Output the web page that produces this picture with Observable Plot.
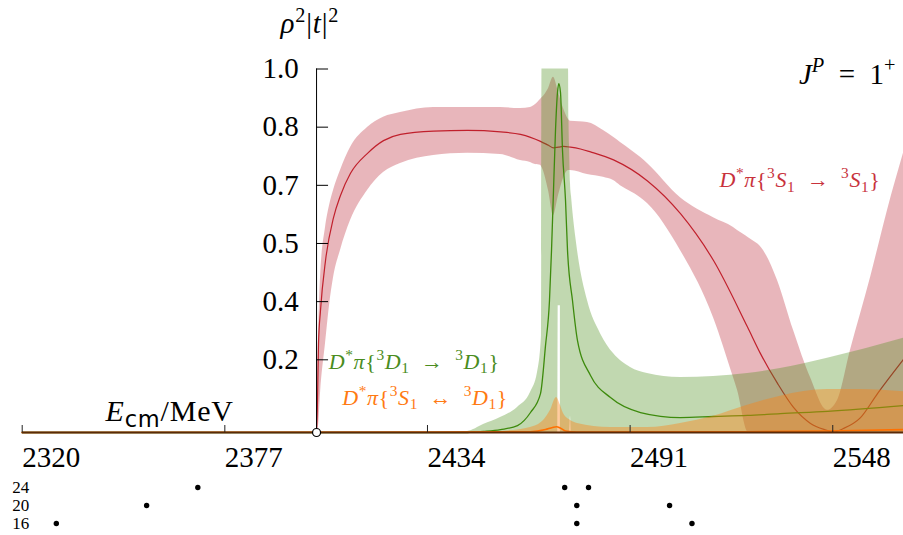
<!DOCTYPE html>
<html>
<head>
<meta charset="utf-8">
<script src="https://cdn.jsdelivr.net/npm/d3@7"></script>
<script src="https://cdn.jsdelivr.net/npm/@observablehq/plot@0.6"></script>
<style>
  html, body { margin: 0; padding: 0; background: white; }
  #chart svg { display: block; }
</style>
</head>
<body>
<div id="chart"></div>
<script>
// ---------- data ----------
const threshold = 2402.8;                 // D*π threshold, MeV
const xDomain = [2320, 2567.9];
const xTicks = [2320, 2377, 2434, 2491, 2548];
const yTicks = [0.2, 0.36, 0.52, 0.68, 0.84, 1.0];

// S-wave  D*π{3S1 -> 3S1}
const redLineE = [2320, 2402.78, 2403.07, 2403.35, 2403.91, 2405.32, 2407.57, 2409.53, 2412.35, 2417.13, 2421.63, 2426.41, 2435.70, 2445.26, 2454.54, 2460.17, 2462.98, 2465.79, 2468.04, 2469.45, 2470.86, 2472.26, 2474.23, 2477.04, 2479.86, 2486.33, 2495.89, 2505.17, 2514.46, 2524.02, 2527.67, 2532.46, 2536.96, 2541.74, 2546.52, 2547.93, 2551.03, 2555.81, 2560.59, 2567.90];
const redLineV = [0, 0, 0.088, 0.245, 0.336, 0.473, 0.591, 0.652, 0.713, 0.768, 0.803, 0.820, 0.829, 0.831, 0.827, 0.820, 0.812, 0.801, 0.790, 0.783, 0.785, 0.787, 0.785, 0.780, 0.772, 0.750, 0.692, 0.602, 0.473, 0.290, 0.217, 0.135, 0.069, 0.025, 0.0055, 0.001, 0.011, 0.041, 0.107, 0.201];
const redBandE = [2402.78, 2403.35, 2403.91, 2405.32, 2406.44, 2407.57, 2409.53, 2412.35, 2417.13, 2421.63, 2426.41, 2435.70, 2445.26, 2454.54, 2460.17, 2462.98, 2464.39, 2465.79, 2466.36, 2468.04, 2469.45, 2470.86, 2472.26, 2473.67, 2474.23, 2479.01, 2483.51, 2486.33, 2488.29, 2493.92, 2495.89, 2505.17, 2514.46, 2520.08, 2521.21, 2524.30, 2528.52, 2532.46, 2536.96, 2541.74, 2546.52, 2549.34, 2552.99, 2558.62, 2563.40, 2567.90];
const redBandLo = [0, 0.019, 0.107, 0.245, 0.349, 0.426, 0.501, 0.583, 0.666, 0.715, 0.740, 0.762, 0.768, 0.765, 0.748, 0.743, 0.737, 0.735, 0.726, 0.666, 0.597, 0.652, 0.699, 0.721, 0.721, 0.710, 0.702, 0.693, 0.679, 0.646, 0.630, 0.501, 0.316, 0.151, 0.116, 0, 0, 0, 0, 0, 0, 0, 0, 0, 0, 0];
const redBandHi = [0, 0.267, 0.426, 0.564, 0.624, 0.666, 0.721, 0.784, 0.839, 0.867, 0.880, 0.894, 0.894, 0.894, 0.891, 0.894, 0.902, 0.916, 0.922, 0.946, 0.977, 0.935, 0.891, 0.861, 0.856, 0.853, 0.831, 0.812, 0.798, 0.757, 0.740, 0.646, 0.591, 0.564, 0.556, 0.536, 0.501, 0.418, 0.281, 0.151, 0.061, 0.088, 0.226, 0.426, 0.611, 0.768];

// D-wave  D*π{3D1 -> 3D1}
const greenLineE = [2320, 2445.26, 2449.76, 2454.54, 2459.32, 2462.98, 2465.79, 2467.20, 2468.32, 2468.89, 2469.45, 2470.01, 2470.57, 2470.94, 2471.42, 2471.98, 2472.83, 2473.39, 2474.79, 2476.20, 2479.86, 2485.48, 2493.92, 2505.17, 2514.46, 2524.02, 2533.30, 2546.52, 2567.90];
const greenLineV = [0, 0, 0.003, 0.008, 0.019, 0.055, 0.107, 0.239, 0.363, 0.501, 0.666, 0.831, 0.935, 0.960, 0.935, 0.776, 0.638, 0.501, 0.363, 0.253, 0.157, 0.096, 0.055, 0.041, 0.044, 0.047, 0.052, 0.058, 0.074];
const greenBandE = [2437.66, 2445.26, 2449.76, 2454.54, 2459.32, 2462.98, 2464.95, 2466.07, 2466.21, 2470.69, 2470.77, 2471.39, 2471.47, 2473.67, 2473.81, 2473.95, 2474.23, 2474.51, 2476.20, 2479.01, 2482.67, 2486.33, 2491.11, 2495.89, 2505.17, 2514.46, 2524.02, 2533.30, 2546.52, 2567.90];
const greenBandLo = [0, 0, 0, 0, 0, 0, 0, 0, 0, 0, 0.349, 0.349, 0, 0, 0, 0, 0.044, 0, 0, 0, 0, 0, 0, 0, 0, 0, 0, 0, 0, 0];
const greenBandHi = [0, 0.003, 0.022, 0.041, 0.069, 0.110, 0.165, 0.267, 1.0, 1.0, 1.0, 1.0, 1.0, 1.0, 0.858, 0.790, 0.685, 0.650, 0.501, 0.363, 0.272, 0.217, 0.179, 0.162, 0.151, 0.154, 0.162, 0.176, 0.204, 0.259];

// S–D mixing  D*π{3S1 <-> 3D1}
const orangeLineE = [2320, 2462.98, 2467.20, 2469.17, 2470.29, 2471.42, 2472.83, 2476.20, 2524.02, 2546.52, 2567.90];
const orangeLineV = [0, 0.002, 0.008, 0.014, 0.016, 0.012, 0.004, 0.001, 0.002, 0.004, 0.008];
const orangeBandE = [2445.26, 2454.54, 2462.98, 2466.64, 2468.61, 2470.29, 2471.42, 2472.26, 2474.23, 2476.20, 2485.48, 2495.89, 2505.17, 2514.46, 2524.02, 2533.30, 2546.52, 2555.81, 2567.90];
const orangeBandHi = [0, 0.003, 0.014, 0.033, 0.061, 0.096, 0.074, 0.052, 0.033, 0.025, 0.014, 0.014, 0.025, 0.045, 0.075, 0.100, 0.118, 0.118, 0.112];

// finite-volume energy levels
const volumes = ["24", "20", "16"];
const levels24 = [2369.4, 2472.6, 2479.3];
const levels20 = [2355.0, 2476.0, 2502.1];
const levels16 = [2329.6, 2476.0, 2508.4];

// ---------- colours ----------
const C = {
  redBand: "#b91d2c", redLine: "#c0202c", redText: "#c8323c",
  greenBand: "#4e8f1e", greenLine: "#3d8a0c", greenText: "#4a8c20",
  orangeBand: "#ff7f0e", orangeLine: "#ff7000", orangeText: "#ff7a12",
  axis: "#5a2a08"
};

// ---------- rich-text labels ----------
const labelRed = [["D","i"],["*","sup"],["π","i"],["{","r"],["3","sup"],["S","i"],["1","sub"],["\u2002→\u2002","r"],["3","sup"],["S","i"],["1","sub"],["}","r"]];
const labelGreen = [["D","i"],["*","sup"],["π","i"],["{","r"],["3","sup"],["D","i"],["1","sub"],["\u2002→\u2002","r"],["3","sup"],["D","i"],["1","sub"],["}","r"]];
const labelOrange = [["D","i"],["*","sup"],["π","i"],["{","r"],["3","sup"],["S","i"],["1","sub"],["\u2002↔\u2002","r"],["3","sup"],["D","i"],["1","sub"],["}","r"]];
const labelY = [["ρ","i"],["2","sup"],["|","r"],["t","i"],["|","r"],["2","sup"]];
const labelJP = [["J","i"],["P","supi"],["\u2002=\u20021","r"],["+","sup"]];
const labelE = [["E","i"],["cm","subsans"],["/MeV","r"]];
const plain = segs => segs.map(s => s[0]).join("");

// ---------- build ----------
const redLine = redLineE.map((E, i) => ({E, v: redLineV[i]}));
const redBand = redBandE.map((E, i) => ({E, lo: redBandLo[i], hi: redBandHi[i]}));
const greenLine = greenLineE.map((E, i) => ({E, v: greenLineV[i]}));
const greenBand = greenBandE.map((E, i) => ({E, lo: greenBandLo[i], hi: greenBandHi[i]}));
const orangeLine = orangeLineE.map((E, i) => ({E, v: orangeLineV[i]}));
const orangeBand = orangeBandE.map((E, i) => ({E, lo: 0, hi: orangeBandHi[i]}));
const levels = [
  ...levels24.map(E => ({E, L: "24"})),
  ...levels20.map(E => ({E, L: "20"})),
  ...levels16.map(E => ({E, L: "16"}))
];

const W = 903, H = 470, mL = 21.7, mR = 0, mT = 68.5, mB = 38;
const pxPerMeV = (W - mL - mR) / (xDomain[1] - xDomain[0]);
const pxPerUnit = H - mT - mB;
const yTickLen = 12 / pxPerMeV;   // in MeV
const xTickLen = 7 / pxPerUnit;   // in y units

const serif = "'Liberation Serif', 'DejaVu Serif', serif";

const labels = [
  {segs: labelY, E: 2392.66, v: 1.098, anchor: "start", fs: 29, ls: 0.8, color: "black"},
  {segs: labelJP, E: 2565.65, v: 0.960, anchor: "end", fs: 29, ls: 0, color: "black"},
  {segs: labelE, E: 2343.43, v: 0.033, anchor: "start", fs: 30, ls: 0.8, color: "black"},
  {segs: labelRed, E: 2561.43, v: 0.675, anchor: "end", fs: 22, ls: 0.6, color: C.redText},
  {segs: labelGreen, E: 2406.24, v: 0.176, anchor: "start", fs: 22, ls: 0.6, color: C.greenText},
  {segs: labelOrange, E: 2410.0, v: 0.077, anchor: "start", fs: 22, ls: 0.6, color: C.orangeText}
];

const main = Plot.plot({
  width: W, height: H,
  marginLeft: mL, marginRight: mR, marginTop: mT, marginBottom: mB,
  x: {domain: xDomain, axis: null},
  y: {domain: [0, 1], axis: null},
  style: {fontFamily: serif, background: "white", overflow: "visible"},
  marks: [
    Plot.areaY(redBand, {x: "E", y1: "lo", y2: "hi", fill: C.redBand, fillOpacity: 0.32, curve: "monotone-x"}),
    Plot.line(redLine, {x: "E", y: "v", stroke: C.redLine, strokeWidth: 1.2, curve: "monotone-x"}),
    Plot.areaY(greenBand, {x: "E", y1: "lo", y2: "hi", fill: C.greenBand, fillOpacity: 0.35, curve: "monotone-x"}),
    Plot.line(greenLine, {x: "E", y: "v", stroke: C.greenLine, strokeWidth: 1.3, curve: "monotone-x"}),
    Plot.areaY(orangeBand, {x: "E", y1: "lo", y2: "hi", fill: C.orangeBand, fillOpacity: 0.4, curve: "monotone-x"}),
    Plot.line(orangeLine, {x: "E", y: "v", stroke: C.orangeLine, strokeWidth: 1.6, curve: "monotone-x"}),
    Plot.ruleY([0], {stroke: C.axis, strokeWidth: 2}),
    Plot.ruleX(xTicks, {y1: 0, y2: xTickLen, stroke: "#222", strokeWidth: 1}),
    Plot.text(xTicks, {x: d => d, y: 0, text: d => String(d), textAnchor: "start", lineAnchor: "bottom", dy: 34.7, fontSize: 29, fill: "black"}),
    Plot.ruleX([threshold], {y1: 0, y2: 1, stroke: "black", strokeWidth: 1}),
    Plot.ruleY(yTicks, {x1: threshold, x2: threshold + yTickLen, stroke: "black", strokeWidth: 1}),
    Plot.text(yTicks, {x: threshold, y: d => d, text: d => d.toFixed(1), textAnchor: "end", dx: -17.7, fontSize: 29, fill: "black"}),
    Plot.dot([threshold], {x: d => d, y: 0, r: 4, fill: "white", stroke: "black", strokeWidth: 1.2}),
    ...labels.map(l => Plot.text([l], {x: "E", y: "v", text: d => plain(d.segs), textAnchor: l.anchor, lineAnchor: "bottom", fontSize: l.fs, fill: l.color}))
  ]
});

const strip = Plot.plot({
  width: W, height: 65,
  marginLeft: mL, marginRight: mR, marginTop: 16, marginBottom: 12,
  x: {domain: xDomain, axis: null},
  y: {domain: volumes, type: "point", padding: 0, axis: null},
  style: {fontFamily: serif, background: "white", overflow: "visible"},
  marks: [
    Plot.dot(levels, {x: "E", y: "L", r: 2.7, fill: "black", stroke: "none"}),
    Plot.text(volumes, {y: d => d, frameAnchor: "left", text: d => d, textAnchor: "start", dx: -10, fontSize: 17, fill: "black"})
  ]
});

const root = document.getElementById("chart");
root.appendChild(main);
root.appendChild(strip);

// convert plain label strings into super/subscript tspans
const specs = new Map(labels.map(l => [plain(l.segs), l]));
main.querySelectorAll("text").forEach(t => {
  const l = specs.get(t.textContent);
  if (!l) return;
  const fs = l.fs;
  if (l.ls) t.setAttribute("letter-spacing", l.ls);
  while (t.firstChild) t.removeChild(t.firstChild);
  let cur = 0;
  for (const [s, kind] of l.segs) {
    const ts = document.createElementNS("http://www.w3.org/2000/svg", "tspan");
    ts.textContent = s;
    let shift = 0;
    if (kind === "i") ts.setAttribute("font-style", "italic");
    if (kind === "sup" || kind === "supi") {
      ts.setAttribute("font-size", fs * 0.7);
      shift = -0.4 * fs;
      if (kind === "supi") ts.setAttribute("font-style", "italic");
    }
    if (kind === "sub" || kind === "subsans") {
      ts.setAttribute("font-size", fs * (kind === "subsans" ? 0.75 : 0.7));
      shift = 0.22 * fs;
      if (kind === "subsans") ts.setAttribute("font-family", "'DejaVu Sans', sans-serif");
    }
    ts.setAttribute("dy", shift - cur);
    cur = shift;
    t.appendChild(ts);
  }
});
</script>
</body>
</html>
